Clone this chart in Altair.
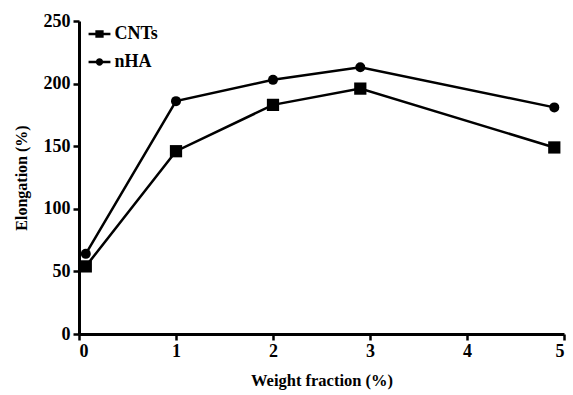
import altair as alt
import pandas as pd

series_names = ["CNTs", "nHA"]
weight_fraction = [0.07, 1, 2, 2.9, 4.9]
cnts_elong = [54, 146, 183, 196, 149]
nha_elong = [64, 186, 203, 213, 181]

rows = []
for x, y in zip(weight_fraction, cnts_elong):
    rows.append({"wf": x, "el": y, "series": "CNTs", "series_leg": "CNTs"})
for x, y in zip(weight_fraction, nha_elong):
    rows.append({"wf": x, "el": y, "series": "nHA", "series_leg": "nHA"})
df = pd.DataFrame(rows)

FONT = "Liberation Serif"

xenc = alt.X("wf:Q", scale=alt.Scale(domain=[0, 5], nice=False),
             axis=alt.Axis(title="Weight fraction (%)", values=[0, 1, 2, 3, 4, 5], format="d"))
yenc = alt.Y("el:Q", scale=alt.Scale(domain=[0, 250], nice=False),
             axis=alt.Axis(title="Elongation (%)", values=[0, 50, 100, 150, 200, 250]))

base = alt.Chart(df)

lines = base.mark_line(color="black", strokeWidth=2.5).encode(
    x=xenc, y=yenc, detail="series:N"
)

points = base.mark_point(filled=True, color="black", opacity=1).encode(
    x=xenc, y=yenc,
    shape=alt.Shape("series:N", scale=alt.Scale(domain=series_names, range=["square", "circle"]), legend=None),
    size=alt.Size("series:N", scale=alt.Scale(domain=series_names, range=[150, 100]), legend=None),
)

sq_leg = "M-0.95,-0.11H0.95V0.11H-0.95Z M-0.36,-0.32H0.36V0.32H-0.36Z"
ci_leg = "M-0.95,-0.11H0.95V0.11H-0.95Z M0.32,0 A0.32,0.32 0 1,1 -0.32,0 A0.32,0.32 0 1,1 0.32,0Z"

legend_layer = base.mark_point(filled=True, color="black", opacity=0).encode(
    x=xenc, y=yenc,
    shape=alt.Shape("series_leg:N",
                    scale=alt.Scale(domain=series_names, range=[sq_leg, ci_leg]),
                    legend=alt.Legend(title=None, orient="none", legendX=8.5, legendY=1,
                                      symbolSize=530, symbolOpacity=1,
                                      symbolFillColor="black", symbolStrokeColor="black",
                                      symbolStrokeWidth=0,
                                      labelFont=FONT, labelFontSize=18, labelFontWeight="bold",
                                      labelColor="black", rowPadding=7, labelOffset=3)),
)

chart = alt.layer(lines, points, legend_layer).resolve_scale(
    shape="independent"
).properties(
    width=485, height=313,
    autosize=alt.AutoSizeParams(type="none"),
    padding={"left": 79, "top": 21, "right": 9, "bottom": 61},
).configure_view(stroke=None).configure_axis(
    grid=False,
    domainColor="black", domainWidth=3,
    tickColor="black", tickWidth=2.5, tickSize=6,
    labelFont=FONT, labelFontSize=18, labelFontWeight="bold", labelColor="black",
    titleFont=FONT, titleFontWeight="bold", titleColor="black",
).configure_axisY(labelPadding=3, titlePadding=14, titleFontSize=16).configure_axisX(
    labelPadding=2, titlePadding=12, titleFontSize=16.5)

chart.save("out.html", embed_options={"renderer": "svg", "actions": False})
